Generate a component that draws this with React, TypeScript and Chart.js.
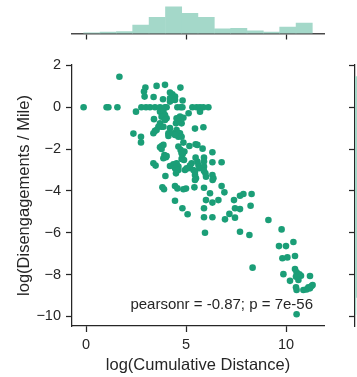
import React, { useEffect, useRef } from "react";
import { Chart, registerables } from "chart.js";
Chart.register(...registerables);

const xTicks = [0, 5, 10];
const yTicks = [-10, -8, -6, -4, -2, 0, 2];
const xLimits = [-0.7, 11.9];
const yLimits = [-10.46, 2.02];

const xLabel = "log(Cumulative Distance)";
const yLabel = "log(Disengagements / Mile)";
const annotationText = "pearsonr = -0.87; p = 7e-56";

const cumDistance = [
  -0.12, 1.03, 1.12, 1.57, 2.77, 3.0, 3.2, 3.45, 3.7, 3.95, 4.03, 4.57, 4.73, 4.82, 5.32, 5.53, 5.7, 5.87, 6.12,
  1.67, 2.97, 2.9, 2.93, 3.53, 3.95, 4.72, 3.38, 3.85, 4.2, 4.32, 4.45, 4.28, 4.2, 4.83, 4.2, 4.45,
  2.5, 3.7, 3.87, 3.95, 3.78, 4.03, 5.13, 5.7, 3.4, 3.7, 3.95, 3.78, 3.62, 4.53, 4.7, 4.87, 4.62, 4.78, 4.5, 3.87,
  2.37, 2.75, 2.75, 3.37, 3.45, 3.53, 4.2, 4.12, 4.12, 4.37, 4.53, 4.53, 4.62, 4.7, 4.62, 4.45, 4.78, 5.45, 5.87,
  4.87, 3.7, 3.78, 3.87, 3.78, 4.62, 4.73, 4.92, 5.17, 5.48, 5.57, 5.83,
  3.92, 4.0, 3.87, 4.03, 4.78, 4.83, 4.78, 4.9, 6.32, 3.37, 3.48, 4.2, 4.37, 4.53, 4.62, 4.45, 4.62, 4.5, 3.97,
  5.28, 5.48, 5.57, 5.12, 5.2, 5.37, 5.62, 5.67, 5.45, 5.5, 5.45, 5.9, 5.9, 5.9, 5.9, 5.97, 6.0, 6.32, 6.78,
  6.32, 6.37, 5.45, 6.33, 4.95, 5.03,
  3.82, 3.9, 4.45, 4.57, 5.0, 4.87, 5.42, 5.9, 6.78, 6.92, 6.2, 6.0, 6.32, 6.62, 7.4, 7.7, 7.87, 8.28, 8.23,
  7.45, 7.7, 7.17, 6.95, 7.45, 5.9, 5.9, 6.32, 4.45, 4.82, 5.08,
  5.95, 7.7, 8.17, 9.12, 9.78, 8.33, 9.65, 10.0, 10.37, 9.82, 10.07, 10.45, 10.45, 10.53, 10.67, 10.75, 10.62,
  10.5, 9.87, 10.2, 11.2, 10.5, 10.53, 10.87, 11.03, 11.12, 11.28, 11.33, 11.2, 10.53,
];

const disengagements = [
  0, 0, 0, 0, 0, 0, 0, 0, 0, 0, 0, 0, 0, 0, 0, 0, 0, 0, 0,
  1.46, 0.94, 0.75, 0.51, 1.02, 1.07, 0.94, 0.49, 0.38, 0.7, 0.62, 0.51, 0.35, 0.27, 0.32, 0.43, 0.35,
  -0.21, -0.21, -0.21, -0.37, -0.45, -0.53, -0.29, -0.21, -0.57, -0.77, -0.61, -0.93, -0.93, -0.53, -0.45, -0.5, -0.69, -0.77, -0.77, -0.93,
  -1.26, -1.41, -1.68, -1.24, -1.13, -1.09, -1.0, -1.24, -1.37, -1.24, -1.09, -1.29, -1.24, -1.24, -1.41, -1.33, -1.41, -1.02, -0.96,
  -1.69, -1.91, -1.85, -1.8, -2.0, -1.88, -2.04, -2.12, -1.85, -1.77, -1.8, -1.98,
  -2.28, -2.39, -2.44, -2.33, -2.2, -2.25, -2.47, -2.52, -2.15, -2.68, -2.79, -2.81, -2.73, -2.68, -2.84, -2.92, -3.0, -3.16, -3.29,
  -2.68, -2.41, -2.6, -2.92, -2.79, -3.0, -2.76, -2.92, -3.24, -3.4, -3.08, -2.41, -2.6, -2.84, -3.05, -3.16, -3.32, -2.63, -2.63,
  -3.24, -3.4, -3.48, -3.48, -3.0, -2.92,
  -3.83, -3.92, -3.77, -3.88, -3.89, -3.92, -3.83, -3.85, -3.77, -4.07, -4.11, -4.44, -4.56, -4.44, -4.44, -4.23, -4.15, -4.15, -4.71,
  -4.83, -4.87, -5.1, -5.36, -5.28, -4.83, -5.26, -5.26, -4.47, -4.83, -5.12,
  -6.0, -5.95, -6.11, -5.39, -5.84, -7.67, -6.64, -6.64, -6.44, -7.22, -7.18, -7.11, -7.74, -7.89, -7.99, -8.06, -8.26,
  -8.1, -7.98, -8.3, -8.07, -8.61, -8.74, -8.74, -8.71, -8.61, -8.55, -8.5, -8.66, -9.9,
];

// marginal histogram of cumulative distance (bin centres and counts)
const xBinCenters = [0.29, 1.11, 1.93, 2.74, 3.56, 4.38, 5.19, 6.01, 6.83, 7.64, 8.46, 9.28, 10.09, 10.91];
const xBinCounts = [1, 2, 3, 13, 25, 41, 31, 25, 7, 8, 4, 2, 10, 16];
const xHistMax = 51.4;

// marginal histogram of disengagements (bin centres and counts)
const yBinCenters = [-9.5, -8.69, -7.88, -7.07, -6.26, -5.44, -4.63, -3.82, -3.01, -2.2, -1.39, -0.58, 0.24, 1.06];
const yBinCounts = [1, 9, 9, 3, 6, 8, 12, 16, 30, 18, 20, 18, 30, 9];
const yHistMax = 50;

const GREEN = "#1b9e77";
const HIST = "#a4d8c9";
const AXIS = "#262626";
const FONT = "'Liberation Sans', Arial, sans-serif";

const fmt = (v: number) => String(v).replace("-", "\u2212");
const setTicks = (vals: number[]) => (scale: any) => {
  scale.ticks = vals.map((v) => ({ value: v }));
};

const pearsonPlugin = {
  id: "pearson",
  afterDatasetsDraw(chart: any) {
    const { ctx, chartArea } = chart;
    ctx.save();
    ctx.font = `15px ${FONT}`;
    ctx.fillStyle = AXIS;
    ctx.textAlign = "right";
    ctx.textBaseline = "middle";
    ctx.fillText(annotationText, chartArea.right - 11, chartArea.bottom - 21);
    ctx.restore();
  },
};

export default function App() {
  const mainRef = useRef<HTMLCanvasElement>(null);
  const topRef = useRef<HTMLCanvasElement>(null);
  const rightRef = useRef<HTMLCanvasElement>(null);

  useEffect(() => {
    Chart.defaults.font.family = FONT;
    Chart.defaults.color = AXIS;

    const main = new Chart(mainRef.current as HTMLCanvasElement, {
      type: "scatter",
      data: {
        datasets: [
          {
            data: cumDistance.map((x, i) => ({ x, y: disengagements[i] })),
            backgroundColor: GREEN,
            borderWidth: 0,
            pointRadius: 3.3,
            pointHoverRadius: 3.3,
          },
        ],
      },
      options: {
        animation: false,
        responsive: false,
        maintainAspectRatio: false,
        events: [],
        layout: { padding: { top: 65, right: 33, left: 0, bottom: 0 } },
        plugins: { legend: { display: false }, tooltip: { enabled: false } },
        scales: {
          x: {
            type: "linear",
            min: xLimits[0],
            max: xLimits[1],
            afterBuildTicks: setTicks(xTicks),
            afterFit: (s: any) => {
              s.height = 51;
            },
            border: { color: AXIS, width: 1.25 },
            grid: { drawOnChartArea: false, tickLength: 6, tickColor: AXIS, tickWidth: 1.25 },
            ticks: { font: { size: 14.5 }, padding: 4, color: AXIS, callback: (v: any) => fmt(v) },
            title: { display: true, text: xLabel, font: { size: 16.5 }, padding: { top: 0, bottom: 2 }, color: AXIS },
          },
          y: {
            type: "linear",
            min: yLimits[0],
            max: yLimits[1],
            afterBuildTicks: setTicks(yTicks),
            afterFit: (s: any) => {
              s.width = 72;
            },
            border: { color: AXIS, width: 1.25 },
            grid: { drawOnChartArea: false, tickLength: 6, tickColor: AXIS, tickWidth: 1.25 },
            ticks: { font: { size: 14.5 }, padding: 5, color: AXIS, callback: (v: any) => fmt(v) },
            title: { display: true, text: yLabel, font: { size: 16.5 }, padding: { top: 15, bottom: 0 }, color: AXIS },
          },
        },
      },
      plugins: [pearsonPlugin],
    } as any);

    const top = new Chart(topRef.current as HTMLCanvasElement, {
      type: "bar",
      data: {
        datasets: [
          {
            data: xBinCenters.map((x, i) => ({ x, y: xBinCounts[i] })),
            backgroundColor: HIST,
            borderWidth: 0,
            barPercentage: 1,
            categoryPercentage: 1,
          },
        ],
      },
      options: {
        animation: false,
        responsive: false,
        maintainAspectRatio: false,
        events: [],
        layout: { padding: { top: 0, right: 33, left: 72, bottom: 0 } },
        plugins: { legend: { display: false }, tooltip: { enabled: false } },
        scales: {
          x: {
            type: "linear",
            offset: false,
            min: xLimits[0],
            max: xLimits[1],
            afterBuildTicks: setTicks(xTicks),
            afterFit: (s: any) => {
              s.height = 11.5;
            },
            border: { color: "#4a4a4a", width: 1.5 },
            grid: { offset: false, drawOnChartArea: false, tickLength: 6, tickColor: AXIS, tickWidth: 1.25 },
            ticks: { display: false },
          },
          y: { display: false, min: 0, max: xHistMax },
        },
      },
    } as any);

    const right = new Chart(rightRef.current as HTMLCanvasElement, {
      type: "bar",
      data: {
        datasets: [
          {
            data: yBinCenters.map((y, i) => ({ x: yBinCounts[i], y })),
            backgroundColor: HIST,
            borderWidth: 0,
            barPercentage: 1,
            categoryPercentage: 1,
          },
        ],
      },
      options: {
        indexAxis: "y",
        animation: false,
        responsive: false,
        maintainAspectRatio: false,
        events: [],
        layout: { padding: { top: 65, right: 0, left: 49, bottom: 51 } },
        plugins: { legend: { display: false }, tooltip: { enabled: false } },
        scales: {
          y: {
            type: "linear",
            position: "left",
            offset: false,
            min: yLimits[0],
            max: yLimits[1],
            afterBuildTicks: setTicks(yTicks),
            afterFit: (s: any) => {
              s.width = 6;
            },
            border: { color: AXIS, width: 1.25 },
            grid: { offset: false, drawOnChartArea: false, tickLength: 6, tickColor: AXIS, tickWidth: 1.25 },
            ticks: { display: false },
          },
          x: { display: false, min: 0, max: yHistMax },
        },
      },
    } as any);

    return () => {
      main.destroy();
      top.destroy();
      right.destroy();
    };
  }, []);

  return (
    <div
      style={{
        position: "absolute",
        left: 0,
        top: 0,
        width: 357,
        height: 377,
        overflow: "hidden",
        background: "#ffffff",
      }}
    >
      <canvas ref={mainRef} width={357} height={377} style={{ position: "absolute", left: 0, top: 0 }} />
      <canvas ref={topRef} width={357} height={45} style={{ position: "absolute", left: 0, top: 0 }} />
      <canvas ref={rightRef} width={100} height={377} style={{ position: "absolute", left: 300, top: 0 }} />
    </div>
  );
}
